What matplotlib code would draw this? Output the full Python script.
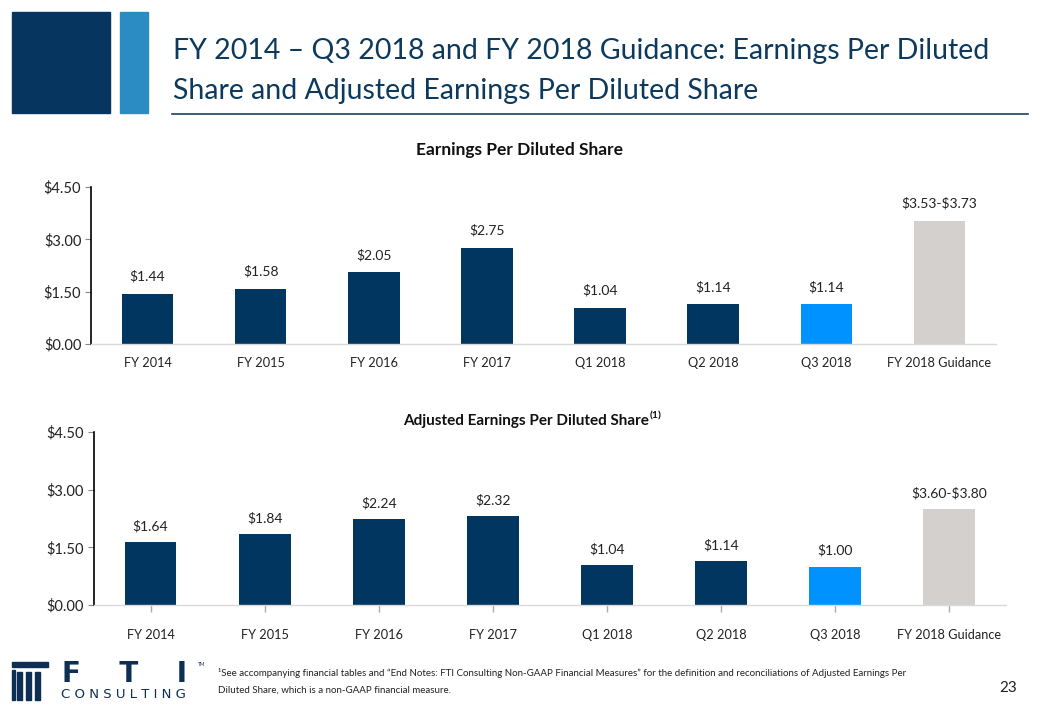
import matplotlib.pyplot as plt
from matplotlib.patches import Rectangle
from matplotlib.lines import Line2D

# data
categories = ["FY 2014", "FY 2015", "FY 2016", "FY 2017",
              "Q1 2018", "Q2 2018", "Q3 2018", "FY 2018 Guidance"]
eps_values = [1.44, 1.58, 2.05, 2.75, 1.04, 1.14, 1.14, 3.53]
eps_labels = ["$1.44", "$1.58", "$2.05", "$2.75", "$1.04", "$1.14", "$1.14", "$3.53-$3.73"]
adj_values = [1.64, 1.84, 2.24, 2.32, 1.04, 1.14, 1.00, 2.50]
adj_labels = ["$1.64", "$1.84", "$2.24", "$2.32", "$1.04", "$1.14", "$1.00", "$3.60-$3.80"]
y_ticks = [0.0, 1.5, 3.0, 4.5]
y_tick_labels = ["$0.00", "$1.50", "$3.00", "$4.50"]

NAVY = "#003660"
BRIGHT = "#0093FF"
GUIDE = "#D3D0CD"
TITLE_C = "#0D3A5C"
bar_colors = [NAVY] * 5 + [NAVY, BRIGHT, GUIDE]

plt.rcParams['font.family'] = ['Lato', 'DejaVu Sans']
plt.rcParams['text.parse_math'] = False

W, H = 1040, 720
fig = plt.figure(figsize=(W / 100, H / 100), dpi=100)


def px(x0, y0, x1, y1):
    # pixel box (top-left origin) -> figure fraction rect
    return [x0 / W, 1 - y1 / H, (x1 - x0) / W, (y1 - y0) / H]


def draw_chart(rect, values, labels, xticks_down, label_off, xlab_pad):
    ax = fig.add_axes(rect)
    x = range(len(categories))
    ax.bar(x, values, width=0.455, color=bar_colors)
    ax.set_xlim(-0.5, len(categories) - 0.5)
    ax.set_ylim(0, 4.5)
    ax.set_yticks(y_ticks)
    ax.set_yticklabels(y_tick_labels, fontsize=10.5, color="#222222")
    ax.set_xticks(list(x))
    ax.set_xticklabels(categories, fontsize=9.2, color="#222222")
    for s in ["top", "right"]:
        ax.spines[s].set_visible(False)
    ax.spines["left"].set_color("black")
    ax.spines["left"].set_linewidth(1.2)
    ax.spines["bottom"].set_color("#D9D9D9")
    ax.spines["bottom"].set_linewidth(1.0)
    ax.tick_params(axis="y", length=4, width=0.8, color="#888888", pad=3)
    if xticks_down:
        ax.tick_params(axis="x", length=5, width=1, color="#AAAAAA", pad=xlab_pad)
    else:
        ax.tick_params(axis="x", length=0, pad=xlab_pad)
    for i, (v, lab) in enumerate(zip(values, labels)):
        ax.annotate(lab, (i, v), xytext=(0, label_off), textcoords="offset points",
                    ha="center", va="center", fontsize=10, color="#222222")
    return ax


draw_chart(px(91, 187, 996, 344), eps_values, eps_labels, False, 12.5, 9)
draw_chart(px(93.5, 432, 1006, 605), adj_values, adj_labels, True, 11.5, 12)

# chart titles
fig.text(519 / W, 1 - 150 / H, "Earnings Per Diluted Share", ha="center", va="center",
         fontsize=12.5, fontweight="bold", color="#111111")
fig.text(403 / W, 1 - 421 / H, "Adjusted Earnings Per Diluted Share", ha="left", va="center",
         fontsize=11, fontweight="bold", color="#111111")
fig.text(650 / W, 1 - 416 / H, "(1)", ha="left", va="center",
         fontsize=7.5, fontweight="bold", color="#111111")

# header blocks and title
fig.patches.append(Rectangle((12 / W, 1 - 113 / H), 98 / W, 101 / H,
                             transform=fig.transFigure, color="#06365F"))
fig.patches.append(Rectangle((120 / W, 1 - 113 / H), 28 / W, 101 / H,
                             transform=fig.transFigure, color="#2B8CC4"))
fig.text(173 / W, 1 - 51 / H, "FY 2014 \u2013 Q3 2018 and FY 2018 Guidance: Earnings Per Diluted",
         ha="left", va="center", fontsize=20.5, color=TITLE_C)
fig.text(173 / W, 1 - 91 / H, "Share and Adjusted Earnings Per Diluted Share",
         ha="left", va="center", fontsize=20.5, color=TITLE_C)
fig.lines.append(Line2D([172 / W, 1028 / W], [1 - 114 / H, 1 - 114 / H],
                        transform=fig.transFigure, color="#1F3F5F", linewidth=1.2))

# logo
for k in range(3):
    fig.patches.append(Rectangle(((17 + k * 9) / W, 1 - 700 / H), 5 / W, 28 / H,
                                 transform=fig.transFigure, color="#0D2F55"))
fig.patches.append(Rectangle((12 / W, 1 - 667 / H), 36 / W, 5 / H,
                             transform=fig.transFigure, color="#0D2F55"))
fig.patches.append(Rectangle((12 / W, 1 - 700 / H), 3 / W, 30 / H,
                             transform=fig.transFigure, color="#0D2F55"))
fig.text(62 / W, 1 - 674 / H, "F    T    I", ha="left", va="center", fontsize=20,
         fontweight="bold", color="#0D2F55", family=["DejaVu Sans"])
fig.text(61 / W, 1 - 694 / H, "C O N S U L T I N G", ha="left", va="center", fontsize=9.5,
         color="#0D2F55", family=["DejaVu Sans"])
fig.text(198 / W, 1 - 664 / H, "TM", ha="left", va="center", fontsize=3.5, color="#0D2F55")

# footnote and page number
fig.text(218 / W, 1 - 673 / H,
         "\u00b9See accompanying financial tables and \u201cEnd Notes: FTI Consulting Non-GAAP Financial "
         "Measures\u201d for the definition and reconciliations of Adjusted Earnings Per",
         ha="left", va="center", fontsize=7, color="#222222")
fig.text(218 / W, 1 - 690 / H, "Diluted Share, which is a non-GAAP financial measure.",
         ha="left", va="center", fontsize=7, color="#222222")
fig.text(1017 / W, 1 - 688 / H, "23", ha="right", va="center", fontsize=11, color="#222222")

fig.savefig("out.png", dpi=100)
